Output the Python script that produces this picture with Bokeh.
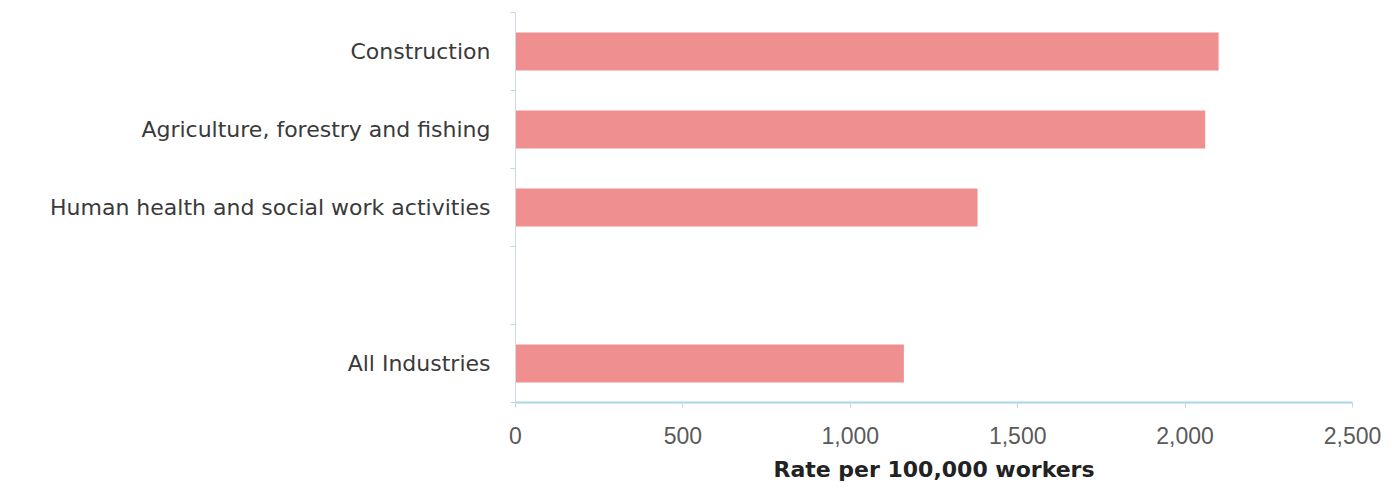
from bokeh.plotting import figure
from bokeh.models import Range1d, FixedTicker, NumeralTickFormatter, ColumnDataSource
from bokeh.embed import file_html
from bokeh.resources import INLINE

# Data (top to bottom)
categories = ["Construction", "Agriculture, forestry and fishing",
              "Human health and social work activities", " ", "All Industries"]
values = [2100, 2060, 1380, None, 1160]
x_ticks = [0, 500, 1000, 1500, 2000, 2500]

n = len(categories)
ypos = [n - i - 0.5 for i in range(n)]
bar_y = [y for y, v in zip(ypos, values) if v is not None]
bar_v = [v for v in values if v is not None]
src = ColumnDataSource(dict(y=bar_y, v=bar_v))

p = figure(width=1392, height=492, output_backend="svg", toolbar_location=None,
           x_range=Range1d(0, 2500), y_range=Range1d(0, n),
           min_border_left=515, min_border_right=40, min_border_top=12, min_border_bottom=90)
p.hbar(y="y", right="v", left=0, height=0.49, source=src,
       fill_color="#EF8F8F", line_color=None)

p.outline_line_color = None
p.xgrid.grid_line_color = None
p.ygrid.grid_line_color = None
p.background_fill_color = "white"
p.border_fill_color = "white"

xa = p.xaxis[0]
xa.ticker = FixedTicker(ticks=x_ticks)
xa.formatter = NumeralTickFormatter(format="0,0")
xa.axis_line_color = "#A9D6E8"
xa.axis_line_width = 2
xa.major_tick_line_color = "#B8D8E6"
xa.major_tick_out = 5
xa.major_tick_in = 0
xa.minor_tick_line_color = None
xa.major_label_text_font = "Liberation Sans"
xa.major_label_text_font_size = "23px"
xa.major_label_text_color = "#5a5a5a"
xa.major_label_standoff = 19
xa.axis_label = "Rate per 100,000 workers"
xa.axis_label_text_font = "DejaVu Sans"
xa.axis_label_text_font_style = "bold"
xa.axis_label_text_font_size = "22px"
xa.axis_label_text_color = "#222222"
xa.axis_label_standoff = 10

ya = p.yaxis[0]
ya.ticker = FixedTicker(ticks=ypos, minor_ticks=list(range(n + 1)))
ya.major_label_overrides = {y: c for y, c in zip(ypos, categories)}
ya.major_tick_line_color = None
ya.major_tick_out = 0
ya.major_tick_in = 0
ya.minor_tick_line_color = "#C8D4DC"
ya.minor_tick_out = 5
ya.minor_tick_in = 0
ya.axis_line_color = "#D0DCE4"
ya.major_label_text_font = "DejaVu Sans"
ya.major_label_text_font_size = "22px"
ya.major_label_text_color = "#3a3a3a"
ya.major_label_standoff = 20

open("out.html", "w").write(file_html(p, INLINE))
